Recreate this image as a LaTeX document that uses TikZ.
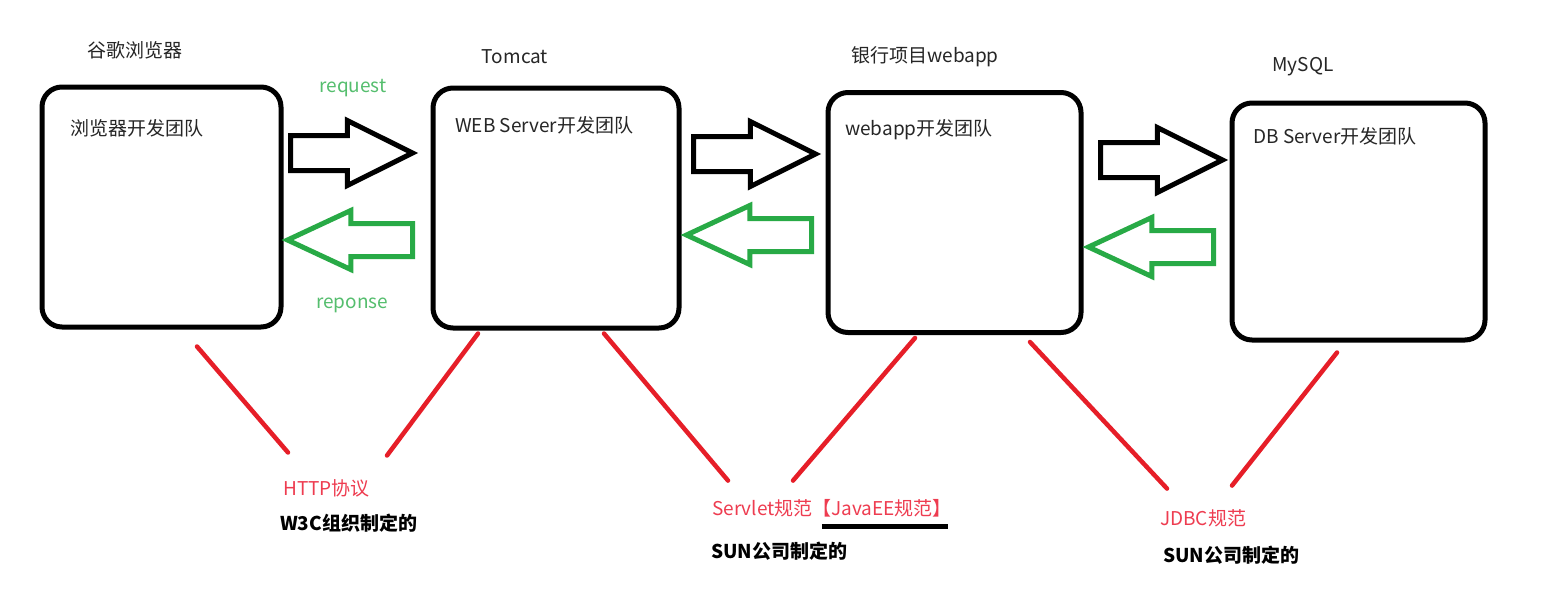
\documentclass[tikz,border=0pt]{standalone}
\usepackage{fontspec}
\setmainfont{Noto Sans CJK SC}
\usetikzlibrary{shapes.arrows, calc}
\definecolor{specred}{RGB}{230,30,40}
\definecolor{spectext}{RGB}{238,60,80}
\definecolor{resgreen}{RGB}{40,170,70}
\definecolor{msgtext}{RGB}{85,190,110}

\begin{document}
\begin{tikzpicture}[x=1pt, y=-1pt,
every node/.style={font=\fontsize{19}{22}\selectfont, text=black!85, inner sep=2pt},
team/.style={draw, line width=5pt, rounded corners=20pt, minimum height=240pt},
reqarrow/.style={single arrow, draw=black, line width=5pt, minimum height=122pt,
  inner sep=15pt, single arrow head extend=15pt, single arrow tip angle=53, anchor=tail},
resarrow/.style={single arrow, draw=resgreen, line width=5pt, minimum height=125pt,
  inner sep=14pt, single arrow head extend=13pt, single arrow tip angle=50,
  shape border rotate=180, anchor=tail},
msg/.style={text=msgtext},
spec/.style={text=spectext, anchor=west},
org/.style={font=\fontsize{19}{22}\selectfont\bfseries, text=black, anchor=west},
specline/.style={draw=specred, line width=4.5pt, line cap=round}
]
\fill[white] (0,0) rectangle (1554,611);

\node[team, minimum width=239pt] (browser) at (161.5,207) {};
\node[team, minimum width=246pt] (tomcat) at (556,208) {};
\node[team, minimum width=253pt] (webapp) at (954.5,212.5) {};
\node[team, minimum width=253pt, minimum height=237pt] (mysql) at (1358.5,221.5) {};

\node (browsertitle) at (135,50) {谷歌浏览器};
\node (tomcattitle) at (515,57) {Tomcat};
\node (webapptitle) at (925,57) {银行项目webapp};
\node (mysqltitle) at (1303,67) {MySQL};

\node[anchor=west] (browserteam) at (68,128) {浏览器开发团队};
\node[anchor=west] (tomcatteam) at (453,125) {WEB Server开发团队};
\node[anchor=west] (webappteam) at (843,130) {webapp开发团队};
\node[anchor=west] (mysqlteam) at (1251,136) {DB Server开发团队};

\foreach \n/\bx/\by/\gx/\gy in {1/288/153/415/240, 2/691/154/814/235, 3/1098/160/1216/247} {
  \node[reqarrow] (req\n) at (\bx,\by) {};
  \node[resarrow] (res\n) at (\gx,\gy) {};
}
\node[msg] (request) at (353,88) {request};
\node[msg] (reponse) at (352,305) {reponse};

\node[spec] (http) at (281,488) {HTTP协议};
\node[org] (w3c) at (278,523) {W3C组织制定的};
\node[spec] (servlet) at (710,508) {Servlet规范};
\node[spec, inner xsep=0pt] (javaee) at ([xshift=-3pt]servlet.east) {【JavaEE规范】};
\node[org] (sun1) at (709,551) {SUN公司制定的};
\node[spec] (jdbc) at (1158,518) {JDBC规范};
\node[org] (sun2) at (1161,555) {SUN公司制定的};

\draw[line width=5pt] ($(javaee.south west)+(10,7)$) -- ($(javaee.south east)+(-4,7)$);

\draw[specline] ($(browser.south)+(35.5,17)$) -- ($(http.north west)+(7,-24.5)$);
\draw[specline] ($(tomcat.south)+(-78,3)$) -- ($(http.north west)+(106,-21.5)$);
\draw[specline] ($(tomcat.south)+(48,3)$) -- ($(servlet.north west)+(18,-16.5)$);
\draw[specline] ($(webapp.south)+(-39.5,3)$) -- ($(servlet.north west)+(83,-16.5)$);
\draw[specline] ($(webapp.south)+(75.5,7)$) -- ($(jdbc.north west)+(9,-18.5)$);
\draw[specline] ($(mysql.south)+(-21.5,10)$) -- ($(jdbc.north west)+(74,-21.5)$);

\end{tikzpicture}
\end{document}
